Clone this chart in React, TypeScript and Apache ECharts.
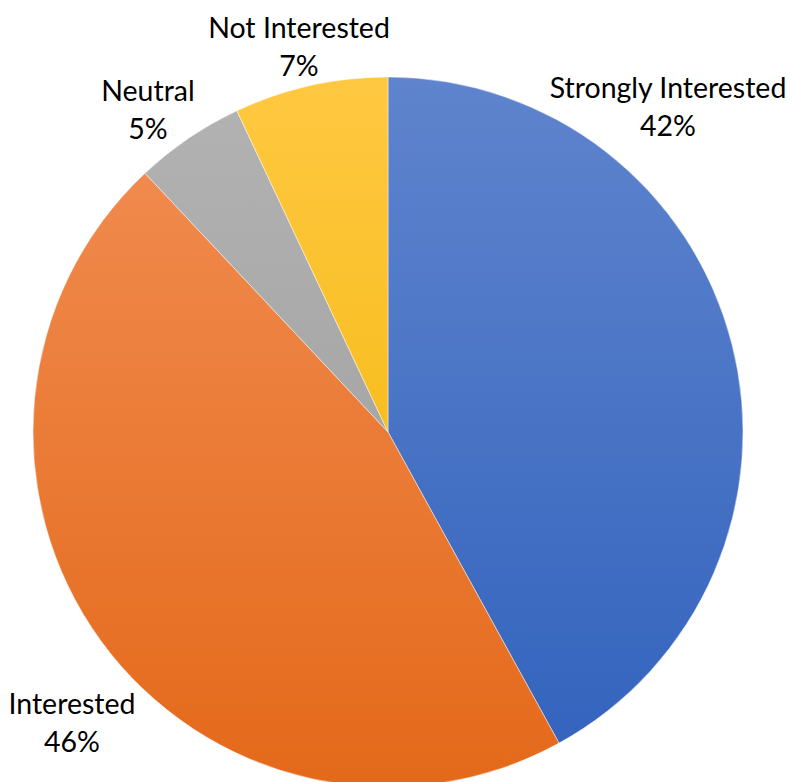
import React, { useEffect, useRef } from "react";
import * as echarts from "echarts";

const categories = ["Strongly Interested", "Interested", "Neutral", "Not Interested"];
const values = [42, 46, 5, 7];

const gradientStops: [string, string][] = [
  ["#5f84cd", "#3162bd"],
  ["#f28f55", "#e4691a"],
  ["#b3b3b3", "#9a9a9a"],
  ["#ffc841", "#f0b400"],
];

const labelPos: { x: number; y: number }[] = [
  { x: 668, y: 106 },
  { x: 72, y: 722 },
  { x: 148, y: 109 },
  { x: 299, y: 46 },
];

export default function App() {
  const ref = useRef<HTMLDivElement>(null);
  useEffect(() => {
    if (!ref.current) return;
    const chart = echarts.init(ref.current, undefined, { renderer: "svg" });
    const data = categories.map((name, i) => ({
      name,
      value: values[i],
      itemStyle: {
        color: new echarts.graphic.LinearGradient(
          0,
          77,
          0,
          787,
          [
            { offset: 0, color: gradientStops[i][0] },
            { offset: 1, color: gradientStops[i][1] },
          ],
          true
        ),
      },
    }));
    chart.setOption({
      animation: false,
      backgroundColor: "#ffffff",
      series: [
        {
          type: "pie",
          center: [388, 432],
          radius: 355,
          startAngle: 90,
          clockwise: true,
          avoidLabelOverlap: false,
          itemStyle: { borderColor: "rgba(255,255,255,0.6)", borderWidth: 0.75 },
          label: {
            show: true,
            position: "outside",
            formatter: "{b}\n{c}%",
            fontFamily: "Lato",
            fontSize: 28.5,
            lineHeight: 38,
            color: "#000000",
            align: "center",
          },
          labelLine: { show: false },
          labelLayout: (params: any) => {
            const p = labelPos[params.dataIndex];
            return {
              x: p.x,
              y: p.y,
              align: "center",
              verticalAlign: "middle",
            };
          },
          data,
        },
      ],
    });
    return () => chart.dispose();
  }, []);
  return (
    <div
      ref={ref}
      style={{ position: "fixed", left: 0, top: 0, width: 794, height: 782 }}
    />
  );
}
